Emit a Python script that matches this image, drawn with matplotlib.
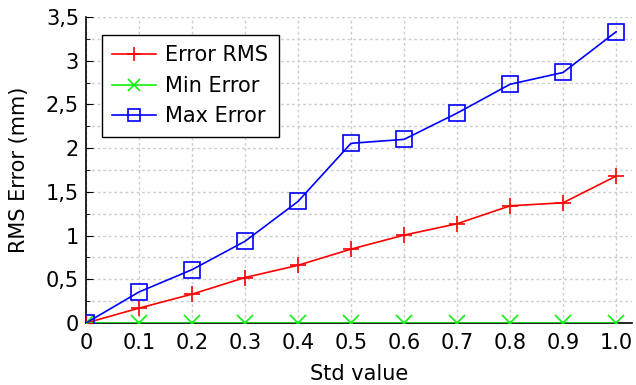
import matplotlib
matplotlib.use("Agg")
import matplotlib.pyplot as plt
from matplotlib.ticker import MultipleLocator, FuncFormatter

std_values = [0.0, 0.1, 0.2, 0.3, 0.4, 0.5, 0.6, 0.7, 0.8, 0.9, 1.0]
error_rms = [0.0, 0.17, 0.33, 0.52, 0.66, 0.845, 1.005, 1.135, 1.34, 1.375, 1.68]
min_error = [0.0] * 11
max_error = [0.0, 0.355, 0.61, 0.935, 1.39, 2.055, 2.10, 2.40, 2.73, 2.865, 3.33]
x_tick_labels = ["0", "0.1", "0.2", "0.3", "0.4", "0.5", "0.6", "0.7", "0.8", "0.9", "1.0"]

fig = plt.figure(figsize=(6.36, 3.85), dpi=100)
ax = fig.add_axes([0.1352, 0.161, 0.8585, 0.795])

ax.plot(std_values, error_rms, color="#ff0000", lw=1.2, marker="+", ms=12, mew=1.2, label="Error RMS", zorder=3)
ax.plot(std_values, min_error, color="#11ee11", lw=1.2, marker="x", ms=11, mew=1.2, label="Min Error", zorder=3)
ax.plot(std_values, max_error, color="#0000ff", lw=1.2, marker="s", ms=11, mew=1.2,
        mfc="none", label="Max Error", zorder=3)

ax.set_xlim(0, 1.03)
ax.set_ylim(0, 3.5)
ax.set_xticks(std_values)
ax.set_xticklabels(x_tick_labels)
ax.yaxis.set_major_locator(MultipleLocator(0.5))
ax.yaxis.set_minor_locator(MultipleLocator(0.25))
ax.yaxis.set_major_formatter(FuncFormatter(lambda v, p: f"{v:g}".replace(".", ",")))

ax.grid(True, which="both", axis="y", color="#cccccc", ls=(0, (2, 2)), lw=1)
ax.grid(True, which="major", axis="x", color="#cccccc", ls=(0, (2, 2)), lw=1)
ax.set_axisbelow(True)

for side in ("top", "right"):
    ax.spines[side].set_visible(False)
for side in ("left", "bottom"):
    ax.spines[side].set_linewidth(1.2)

ax.tick_params(axis="both", which="both", direction="in", labelsize=15)
ax.tick_params(axis="y", which="major", length=5, pad=5)
ax.tick_params(axis="y", which="minor", length=3)
ax.tick_params(axis="x", length=0, pad=7)

ax.set_xlabel("Std value", fontsize=15, labelpad=8)
ax.set_ylabel("RMS Error (mm)", fontsize=15, labelpad=12)

leg = ax.legend(loc="upper left", bbox_to_anchor=(0.029, 0.941), borderaxespad=0, fontsize=15,
                fancybox=False, framealpha=1, edgecolor="black", handlelength=2.1,
                handletextpad=0.45, borderpad=0.5, labelspacing=0.5, markerscale=0.85)
leg.get_frame().set_linewidth(1.0)

fig.savefig("out.png", dpi=100)
